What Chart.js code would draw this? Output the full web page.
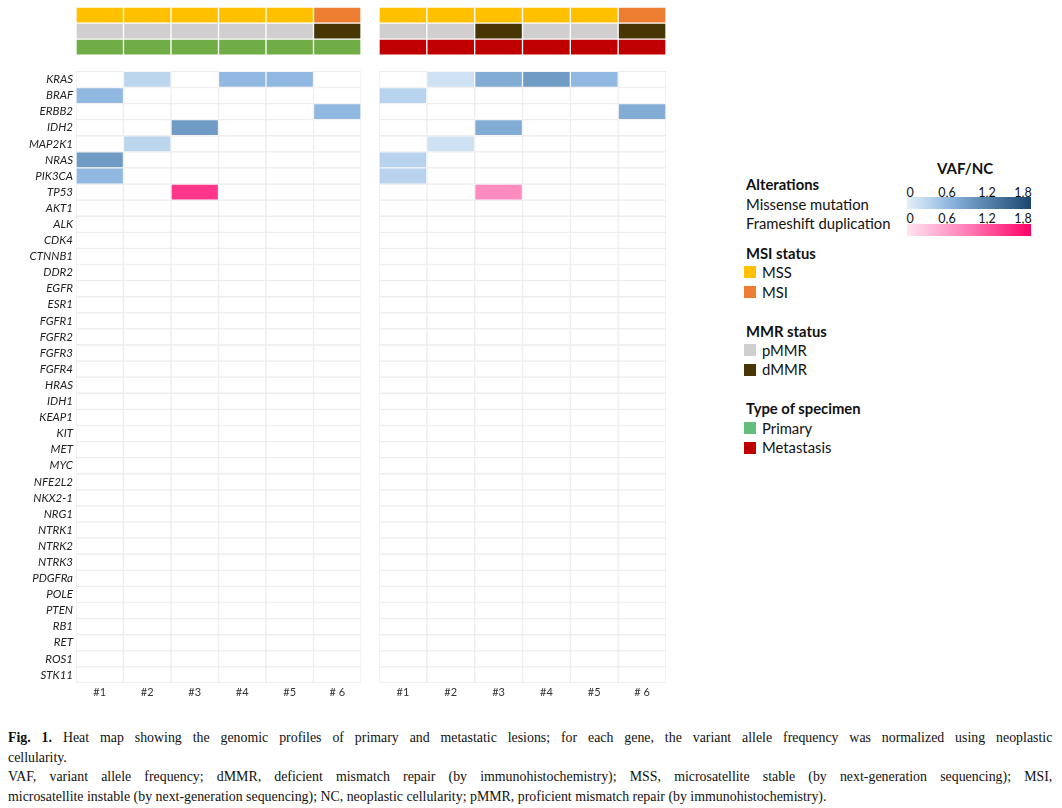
<!DOCTYPE html>
<html>
<head>
<meta charset="utf-8">
<script src="https://cdn.jsdelivr.net/npm/chart.js@4/dist/chart.umd.min.js"></script>
<style>
  body { margin: 0; background: #fff; width: 1062px; height: 808px; position: relative; overflow: hidden; font-family: Lato, sans-serif; color: #111; }
  canvas { position: absolute; top: 0; }
  #left { left: 0; }
  #right { left: 379px; }
  .t { position: absolute; white-space: nowrap; font-size: 14.8px; line-height: 18px; }
  .b { font-weight: bold; }
  .sw { position: absolute; width: 12px; height: 12px; }
  .bar { position: absolute; left: 907px; width: 124px; height: 12px; }
  .tk { position: absolute; font-size: 12.5px; transform: translateX(-50%); }
  #cap { position: absolute; left: 8px; top: 728px; width: 1129px; transform: scaleX(0.925); transform-origin: 0 0; font-family: "Liberation Serif", serif; font-size: 15px; line-height: 19.5px; color: #111; }
  #cap div { white-space: nowrap; }
  #cap .j { text-align: justify; text-align-last: justify; }
</style>
</head>
<body>
<canvas id="left" width="364" height="705"></canvas>
<canvas id="right" width="288" height="705"></canvas>

<div class="t b" style="left:937px;top:159px;font-size:15px">VAF/NC</div>
<div class="t b" style="left:746px;top:175px">Alterations</div>
<div class="t" style="left:746px;top:195px">Missense mutation</div>
<div class="t" style="left:746px;top:214px">Frameshift duplication</div>
<div id="ticksBlue"></div>
<div class="bar" id="blueBar" style="top:197px"></div>
<div class="bar" id="pinkBar" style="top:224px"></div>

<div class="t b" style="left:746px;top:244px">MSI status</div>
<div class="sw" style="left:744px;top:266px;background:#ffc000"></div><div class="t" style="left:762px;top:263px">MSS</div>
<div class="sw" style="left:744px;top:286px;background:#ed7d31"></div><div class="t" style="left:762px;top:283px">MSI</div>
<div class="t b" style="left:746px;top:322px">MMR status</div>
<div class="sw" style="left:744px;top:344px;background:#d0cece"></div><div class="t" style="left:762px;top:341px">pMMR</div>
<div class="sw" style="left:744px;top:364px;background:#473503"></div><div class="t" style="left:762px;top:360px">dMMR</div>
<div class="t b" style="left:746px;top:399px">Type of specimen</div>
<div class="sw" style="left:744px;top:422px;background:#63be7b"></div><div class="t" style="left:762px;top:419px">Primary</div>
<div class="sw" style="left:744px;top:442px;background:#c00000"></div><div class="t" style="left:762px;top:438px">Metastasis</div>

<div id="cap">
  <div class="j"><b>Fig. 1.</b> Heat map showing the genomic profiles of primary and metastatic lesions; for each gene, the variant allele frequency was normalized using neoplastic</div>
  <div>cellularity.</div>
  <div class="j">VAF, variant allele frequency; dMMR, deficient mismatch repair (by immunohistochemistry); MSS, microsatellite stable (by next-generation sequencing); MSI,</div>
  <div>microsatellite instable (by next-generation sequencing); NC, neoplastic cellularity; pMMR, proficient mismatch repair (by immunohistochemistry).</div>
</div>

<script>
const genes = ['KRAS', 'BRAF', 'ERBB2', 'IDH2', 'MAP2K1', 'NRAS', 'PIK3CA', 'TP53', 'AKT1', 'ALK',
  'CDK4', 'CTNNB1', 'DDR2', 'EGFR', 'ESR1', 'FGFR1', 'FGFR2', 'FGFR3', 'FGFR4', 'HRAS',
  'IDH1', 'KEAP1', 'KIT', 'MET', 'MYC', 'NFE2L2', 'NKX2-1', 'NRG1', 'NTRK1', 'NTRK2',
  'NTRK3', 'PDGFRa', 'POLE', 'PTEN', 'RB1', 'RET', 'ROS1', 'STK11'];
const samples = ['#1', '#2', '#3', '#4', '#5', '# 6'];

const msiPrimary = ['MSS', 'MSS', 'MSS', 'MSS', 'MSS', 'MSI'];
const mmrPrimary = ['pMMR', 'pMMR', 'pMMR', 'pMMR', 'pMMR', 'dMMR'];
const specimenPrimary = ['Primary', 'Primary', 'Primary', 'Primary', 'Primary', 'Primary'];
const msiMetastasis = ['MSS', 'MSS', 'MSS', 'MSS', 'MSS', 'MSI'];
const mmrMetastasis = ['pMMR', 'pMMR', 'dMMR', 'pMMR', 'pMMR', 'dMMR'];
const specimenMetastasis = ['Metastasis', 'Metastasis', 'Metastasis', 'Metastasis', 'Metastasis', 'Metastasis'];

// [gene, sample index, VAF/NC]
const missensePrimary = [['KRAS', 1, 0.3], ['KRAS', 3, 0.6], ['KRAS', 4, 0.6], ['BRAF', 0, 0.6],
  ['ERBB2', 5, 0.6], ['IDH2', 2, 0.9], ['MAP2K1', 1, 0.3], ['NRAS', 0, 0.9], ['PIK3CA', 0, 0.6]];
const frameshiftPrimary = [['TP53', 2, 1.4]];
const missenseMetastasis = [['KRAS', 1, 0.15], ['KRAS', 2, 0.72], ['KRAS', 3, 0.9], ['KRAS', 4, 0.6],
  ['BRAF', 0, 0.33], ['ERBB2', 5, 0.72], ['IDH2', 2, 0.72], ['MAP2K1', 1, 0.15], ['NRAS', 0, 0.33], ['PIK3CA', 0, 0.33]];
const frameshiftMetastasis = [['TP53', 2, 0.75]];

const statusColors = { MSS: '#ffc000', MSI: '#ed7d31', pMMR: '#d0cece', dMMR: '#473503', Primary: '#70ad47', Metastasis: '#c00000' };
const blueStops = [[0, '#e2edf8'], [0.3, '#bcd6ee'], [0.6, '#91b8e0'], [0.9, '#6f9bc4'], [1.8, '#1a466f']];
const pinkStops = [[0, '#ffe4f0'], [0.9, '#ff7ab5'], [1.8, '#ff0066']];
const scaleTicks = ['0', '0,6', '1,2', '1,8'];

const annotRows = ['MSI status', 'MMR status', 'Type of specimen', ' '];
const rowLabels = annotRows.concat(genes);

function hex(c) { return [1, 3, 5].map(i => parseInt(c.substr(i, 2), 16)); }
function colorAt(stops, v) {
  for (let i = 1; i < stops.length; i++) {
    if (v <= stops[i][0] || i === stops.length - 1) {
      const t = Math.min(1, (v - stops[i - 1][0]) / (stops[i][0] - stops[i - 1][0]));
      const a = hex(stops[i - 1][1]), b = hex(stops[i][1]);
      return 'rgb(' + a.map((x, k) => Math.round(x + (b[k] - x) * t)).join(',') + ')';
    }
  }
}

function buildCells(msi, mmr, specimen, missense, frameshift) {
  const cells = [];
  [msi, mmr, specimen].forEach((row, r) => {
    row.forEach((s, i) => cells.push({ x: [i - 0.5, i + 0.5], y: annotRows[r], c: statusColors[s], b: '#ffffff' }));
  });
  const filled = {};
  missense.forEach(([g, i, v]) => { filled[g + i] = colorAt(blueStops, v); });
  frameshift.forEach(([g, i, v]) => { filled[g + i] = colorAt(pinkStops, v); });
  genes.forEach(g => {
    samples.forEach((s, i) => {
      const f = filled[g + i];
      cells.push({ x: [i - 0.5, i + 0.5], y: g, c: f || '#ffffff', b: f ? '#f7f7f7' : '#ededed' });
    });
  });
  return cells;
}

function makeChart(id, cells, showGenes, pad) {
  new Chart(document.getElementById(id), {
    type: 'bar',
    data: {
      labels: rowLabels,
      datasets: [{
        data: cells,
        backgroundColor: ctx => ctx.raw.c,
        borderColor: ctx => ctx.raw.b,
        borderWidth: 1,
        borderSkipped: false,
        categoryPercentage: 1,
        barPercentage: 1
      }]
    },
    options: {
      indexAxis: 'y',
      responsive: false,
      animation: false,
      layout: { padding: pad },
      plugins: { legend: { display: false }, tooltip: { enabled: false } },
      scales: {
        x: {
          type: 'linear', min: -0.5, max: 5.5,
          grid: { display: false, drawTicks: false }, border: { display: false },
          afterBuildTicks: s => { s.ticks = samples.map((_, i) => ({ value: i })); },
          afterFit: s => { s.height = 22; s.paddingLeft = 0; s.paddingRight = 0; },
          ticks: { callback: v => samples[v], color: '#333', font: { family: 'Lato', size: 11 }, maxRotation: 0, padding: 3 }
        },
        y: {
          type: 'category', labels: rowLabels, display: showGenes,
          grid: { display: false, drawTicks: false }, border: { display: false },
          afterFit: s => { s.width = showGenes ? 76 : 0; s.paddingTop = 0; s.paddingBottom = 0; },
          ticks: {
            autoSkip: false, padding: 3, color: '#222',
            font: { family: 'Lato', size: 11.5, style: 'italic' },
            callback: (v, i) => i < annotRows.length ? '' : rowLabels[i]
          }
        }
      }
    }
  });
}

makeChart('left', buildCells(msiPrimary, mmrPrimary, specimenPrimary, missensePrimary, frameshiftPrimary), true, { top: 7, right: 3 });
makeChart('right', buildCells(msiMetastasis, mmrMetastasis, specimenMetastasis, missenseMetastasis, frameshiftMetastasis), false, { top: 7, right: 1 });

// colour scale legend
function grad(stops) { return 'linear-gradient(to right,' + stops.map(([v, c]) => c + ' ' + (v / 1.8 * 100) + '%').join(',') + ')'; }
document.getElementById('blueBar').style.background = grad(blueStops);
document.getElementById('pinkBar').style.background = grad(pinkStops);
const tickX = [910, 947, 987, 1023];
let html = '';
[185, 211].forEach(top => {
  scaleTicks.forEach((t, i) => { html += '<div class="tk" style="left:' + tickX[i] + 'px;top:' + top + 'px">' + t + '</div>'; });
});
document.getElementById('ticksBlue').innerHTML = html;
</script>
</body>
</html>
